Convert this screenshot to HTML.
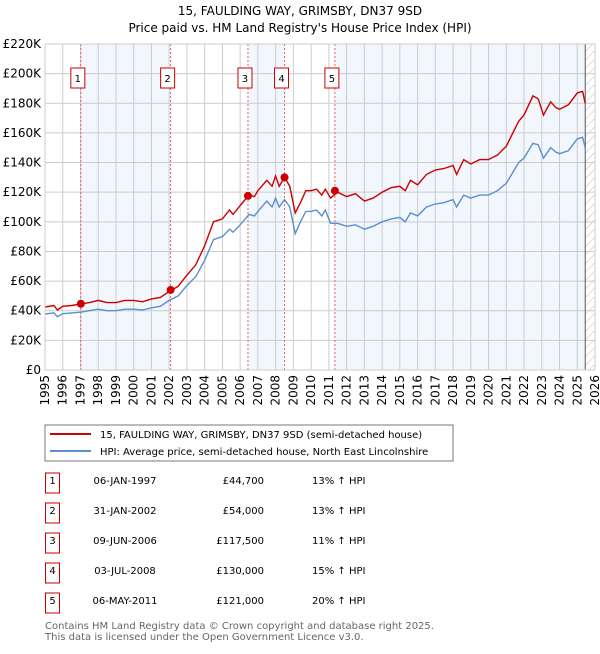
<!DOCTYPE html>
<html><head><meta charset="utf-8"><style>
body{margin:0;background:#fff;font-family:"DejaVu Sans","Liberation Sans",sans-serif;}
svg text{font-family:"DejaVu Sans","Liberation Sans",sans-serif;}
</style></head><body>
<svg id="c" width="600" height="650">
<defs><pattern id="hatch" width="6" height="6" patternUnits="userSpaceOnUse" patternTransform="rotate(45)"><line x1="0" y1="0" x2="0" y2="6" stroke="#bbb" stroke-width="1"/></pattern></defs>
<text x="300" y="15" text-anchor="middle" font-size="12">15, FAULDING WAY, GRIMSBY, DN37 9SD</text>
<text x="300" y="32" text-anchor="middle" font-size="12">Price paid vs. HM Land Registry's House Price Index (HPI)</text>
<g id="g"></g>
<rect x="45" y="425" width="408" height="36" fill="#fff" stroke="#777"/>
<line x1="50" y1="434" x2="91" y2="434" stroke="#cc0000" stroke-width="2"/>
<text x="100" y="438" font-size="10">15, FAULDING WAY, GRIMSBY, DN37 9SD (semi-detached house)</text>
<line x1="50" y1="451" x2="91" y2="451" stroke="#5b8fd0" stroke-width="2"/>
<text x="100" y="455" font-size="10">HPI: Average price, semi-detached house, North East Lincolnshire</text>
<g id="tbl" font-size="10"></g>
<text x="45" y="629" font-size="10" fill="#666">Contains HM Land Registry data © Crown copyright and database right 2025.</text>
<text x="45" y="640" font-size="10" fill="#666">This data is licensed under the Open Government Licence v3.0.</text>
</svg>
<script>
const years=[1995,1995.5,1995.7,1996,1996.5,1997,1997.5,1998,1998.5,1999,
1999.5,2000,2000.5,2001,2001.5,2002,2002.5,2003,2003.5,2004,
2004.5,2005,2005.4,2005.6,2006,2006.5,2006.8,2007,2007.5,2007.8,
2008,2008.2,2008.5,2008.8,2009.1,2009.4,2009.7,2010,2010.3,2010.6,
2010.8,2011.1,2011.5,2012,2012.5,2013,2013.5,2014,2014.5,2015,
2015.3,2015.6,2016,2016.5,2017,2017.5,2018,2018.2,2018.6,2019,
2019.5,2020,2020.5,2021,2021.7,2022,2022.5,2022.8,2023.1,2023.5,
2023.8,2024,2024.5,2025,2025.3,2025.45];
const hpi=[37.8,38.5,36,38,38.5,39,40,41,40,40,
41,41,40.5,42,43,47,50,57,63,74,
88,90,95,93,98,105,104,107,114,110,
116,110,115,110,92,100,107,107,108,104,
108,99,99,97,98,95,97,100,102,103,
100,106,104,110,112,113,115,110,118,116,
118,118,121,126,140,143,153,152,143,150,
147,146,148,156,157,150];
const price=[42.5,43.5,40.5,43,43.5,44.5,45.5,47,45.5,45.5,
47,47,46,48,49,53,56.5,64,71,84,
100,102,108,105,111,118,117,121,128,124,
131,124,130,124,106,113,121,121,122,118,
122,116,120,117,119,114,116,120,123,124,
121,128,125,132,135,136,138,132,142,139,
142,142,145,151,168,172,185,183,172,181,
177,176,179,187,188,180];
const saleYears=[1997.02,2002.08,2006.44,2008.5,2011.34];
const salePrices=[44.7,54,117.5,130,121];
const saleDates=["06-JAN-1997","31-JAN-2002","09-JUN-2006","03-JUL-2008","06-MAY-2011"];
const saleLabels=["£44,700","£54,000","£117,500","£130,000","£121,000"];
const saleHpi=["13% ↑ HPI","13% ↑ HPI","11% ↑ HPI","15% ↑ HPI","20% ↑ HPI"];
const yTicks=[0,20,40,60,80,100,120,140,160,180,200,220];
const xTicks=[];for(let y=1995;y<=2026;y++)xTicks.push(y);
const dataEnd=2025.45;
const X0=45,X1=595,Y0=370,Y1=44;
const sx=v=>X0+(v-1995)/(2026-1995)*(X1-X0);
const sy=v=>Y0-v/220*(Y0-Y1);
const NS="http://www.w3.org/2000/svg";
const g=document.getElementById('g');
function mk(t,a,p){const e=document.createElementNS(NS,t);for(const k in a)e.setAttribute(k,a[k]);(p||g).appendChild(e);return e;}
let e;
const bands=[[saleYears[0],saleYears[1]],[saleYears[2],saleYears[3]],[saleYears[4],dataEnd]];
bands.forEach((b,i)=>{e=mk('rect',{x:sx(b[0]),y:Y1,width:sx(b[1])-sx(b[0]),height:Y0-Y1,fill:'#eef3fc',opacity:0.75});

});
e=mk('rect',{x:sx(dataEnd),y:Y1,width:X1-sx(dataEnd),height:Y0-Y1,fill:'url(#hatch)'});


yTicks.forEach(v=>{e=mk('line',{x1:X0,x2:X1,y1:sy(v),y2:sy(v),stroke:'#cccccc'});


e=mk('text',{x:X0-4,y:sy(v)+4,'text-anchor':'end','font-size':12});e.textContent=v===0?'£0':'£'+v+'K';

});
xTicks.forEach(v=>{e=mk('line',{x1:sx(v),x2:sx(v),y1:Y1,y2:Y0,stroke:'#cccccc'});


e=mk('text',{x:0,y:0,'text-anchor':'end','font-size':12,transform:`translate(${sx(v)+4},${Y0+5}) rotate(-90)`});e.textContent=v;

});
e=mk('line',{x1:sx(dataEnd),x2:sx(dataEnd),y1:Y1,y2:Y0,stroke:'#555'});


saleYears.forEach((s,i)=>{e=mk('line',{x1:sx(s),x2:sx(s),y1:Y1,y2:Y0,stroke:'#f06060','stroke-dasharray':'2,2'});


e=mk('rect',{x:sx(s)-10,y:68,width:14,height:20,fill:'#fff',stroke:'#cc0000'});


e=mk('text',{x:sx(s)-3,y:82,'text-anchor':'middle','font-size':10});e.textContent=i+1;

});
const path=arr=>arr.map((v,i)=>(i?'L':'M')+sx(years[i]).toFixed(1)+','+sy(v).toFixed(1)).join('');
e=mk('path',{d:path(hpi),fill:'none',stroke:'#5b8fd0','stroke-width':1.4});


e=mk('path',{d:path(price),fill:'none',stroke:'#cc0000','stroke-width':1.4});


saleYears.forEach((s,i)=>{e=mk('circle',{cx:sx(s),cy:sy(salePrices[i]),r:4,fill:'#cc0000'});

});
e=mk('rect',{x:X0,y:Y1,width:X1-X0,height:Y0-Y1,fill:'none',stroke:'#cccccc'});


const t=document.getElementById('tbl');
saleYears.forEach((s,i)=>{const cy=483+i*30;
e=mk('rect',{x:45.5,y:cy-10,width:14,height:20,fill:'#fff',stroke:'#cc0000'},t);


e=mk('text',{x:52.5,y:cy+1,'text-anchor':'middle'},t);e.textContent=i+1;


e=mk('text',{x:125,y:cy+1,'text-anchor':'middle'},t);e.textContent=saleDates[i];


e=mk('text',{x:264,y:cy+1,'text-anchor':'end'},t);e.textContent=saleLabels[i];


e=mk('text',{x:312,y:cy+1},t);e.textContent=saleHpi[i];

});
</script>
</body></html>
